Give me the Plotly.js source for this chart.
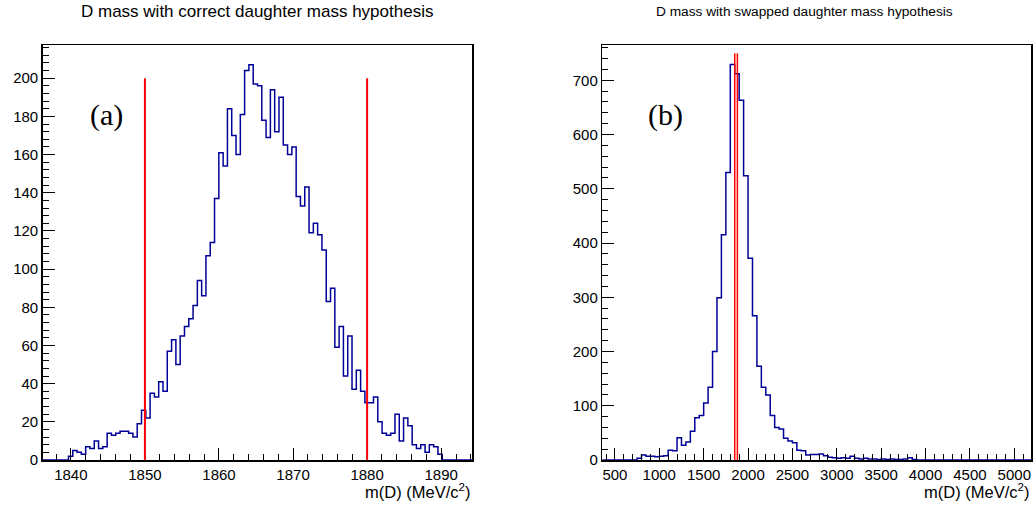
<!DOCTYPE html>
<html>
<head>
<meta charset="utf-8">
<script src="https://cdn.plot.ly/plotly-3.0.1.min.js"></script>
<style>html,body{margin:0;padding:0;background:#fff;}#chart{width:1034px;height:507px;}</style>
</head>
<body>
<div id="chart"></div>
<script>
// ---- Data ----
// (a) correct daughter mass hypothesis: 100 bins
const binStartA = 1836.2;
const binWidthA = 0.58;
const countsA = [0,0,0,0,0,0,2,5,4,3,7,6,10,6,7,14,13,14,15,15,14,12,19,26,22,35,33,41,36,57,63,50,65,70,74,81,94,86,107,114,137,161,154,184,170,160,181,204,207,197,196,178,169,194,172,190,165,160,164,138,133,143,119,124,118,110,83,90,59,70,44,65,37,47,36,30,30,33,20,14,13,14,24,10,22,18,8,6,8,4,8,7,3,0,0,0,0,0,0,0];
// (b) swapped daughter mass hypothesis: 50 MeV bins
const binStartB = 350;
const binWidthB = 50;
const countsB = [0,0,0,0,0,0,0,0,3,9,7,7,6,7,8,18,17,41,27,33,53,78,82,105,134,200,299,415,530,729,712,663,524,372,266,173,134,120,82,60,57,40,35,32,18,17,9,10,10,11,8,5,4,3,4,3,7,3,2,3,2,2,1,2,1,2,1,1,2,4,1,0,0,0,0,0,0,0,0,0,0,0,0,0,0,0,0,0,0,0,0,0,0,0,0,0,0];
const xRangeB = [358, 5188];
// Signal window cut values (MeV/c^2)
const cutValues = [1850, 1880];
const cutTopA = 200;
const cutTopB = 750;
const titleA = "D mass with correct daughter mass hypothesis";
const titleB = "D mass with swapped daughter mass hypothesis";
const xTitle = "m(D) (MeV/c<sup>2</sup>)";
const panelLabels = ["(a)", "(b)"];

function stepXY(start, width, counts){
  const x = [], y = [];
  for (let i = 0; i <= counts.length; i++){
    x.push(start + i*width);
    y.push(i < counts.length ? counts[i] : counts[counts.length-1]);
  }
  return {x, y};
}
const sA = stepXY(binStartA, binWidthA, countsA);
const sB = stepXY(binStartB, binWidthB, countsB);

const W = 1034, H = 507;
const fL = 42.7, fR = 472.3, gL = 602.3, gR = 1031, fT = 45, fB = 460;
const histColor = '#000099';
const font = 'Liberation Sans, Arial, sans-serif';

const traces = [
  {x: sA.x, y: sA.y, type: 'scatter', mode: 'lines', line: {shape: 'hv', color: histColor, width: 1.5}, xaxis: 'x', yaxis: 'y', hoverinfo: 'skip', cliponaxis: true},
  {x: sB.x, y: sB.y, type: 'scatter', mode: 'lines', line: {shape: 'hv', color: histColor, width: 1.5}, xaxis: 'x2', yaxis: 'y2', hoverinfo: 'skip', cliponaxis: true}
];

function axisBase(){
  return {
    showgrid: false, zeroline: false, showline: true, mirror: true,
    linecolor: '#000', linewidth: 1.5,
    ticks: 'inside', ticklen: 12, tickwidth: 1, tickcolor: '#000',
    tickfont: {family: font, size: 15, color: '#000'},
    tickmode: 'linear', ticklabeloverflow: 'allow'
  };
}
const yDom = [1 - fB/H, 1 - fT/H];

const layout = {
  width: W, height: H,
  margin: {l: 0, r: 0, t: 0, b: 0},
  paper_bgcolor: '#fff', plot_bgcolor: '#fff',
  showlegend: false,
  xaxis: Object.assign(axisBase(), {domain: [fL/W, fR/W], range: [binStartA, binStartA + binWidthA*countsA.length], anchor: 'y', tick0: 1840, dtick: 10,
    minor: {tick0: 1840, dtick: 2, ticks: 'inside', ticklen: 6, tickwidth: 1, tickcolor: '#000'}}),
  yaxis: Object.assign(axisBase(), {domain: yDom, range: [0, 217.4], anchor: 'x', tick0: 0, dtick: 20,
    minor: {tick0: 0, dtick: 4, ticks: 'inside', ticklen: 6, tickwidth: 1, tickcolor: '#000'}}),
  xaxis2: Object.assign(axisBase(), {domain: [gL/W, gR/W], range: xRangeB, anchor: 'y2', tick0: 500, dtick: 500,
    minor: {tick0: 500, dtick: 100, ticks: 'inside', ticklen: 6, tickwidth: 1, tickcolor: '#000'}}),
  yaxis2: Object.assign(axisBase(), {domain: yDom, range: [0, 765], anchor: 'x2', tick0: 0, dtick: 100,
    minor: {tick0: 0, dtick: 20, ticks: 'inside', ticklen: 6, tickwidth: 1, tickcolor: '#000'}}),
  shapes: [],
  annotations: [
    {text: titleA, xref: 'paper', yref: 'paper', x: 257/W, y: 1 - 11.5/H, xanchor: 'center', yanchor: 'middle', showarrow: false, font: {family: font, size: 17, color: '#000'}},
    {text: titleB, xref: 'paper', yref: 'paper', x: 804/W, y: 1 - 11.5/H, xanchor: 'center', yanchor: 'middle', showarrow: false, font: {family: font, size: 13.7, color: '#000'}},
    {text: xTitle, xref: 'paper', yref: 'paper', x: fR/W, y: 1 - 491/H, xanchor: 'right', yanchor: 'middle', showarrow: false, font: {family: font, size: 16.5, color: '#000'}},
    {text: xTitle, xref: 'paper', yref: 'paper', x: gR/W, y: 1 - 491/H, xanchor: 'right', yanchor: 'middle', showarrow: false, font: {family: font, size: 16.5, color: '#000'}},
    {text: panelLabels[0], xref: 'paper', yref: 'paper', x: 106/W, y: 1 - 115/H, xanchor: 'center', yanchor: 'middle', showarrow: false, font: {family: 'Liberation Serif, DejaVu Serif, serif', size: 30, color: '#000'}},
    {text: panelLabels[1], xref: 'paper', yref: 'paper', x: 665/W, y: 1 - 115/H, xanchor: 'center', yanchor: 'middle', showarrow: false, font: {family: 'Liberation Serif, DejaVu Serif, serif', size: 30, color: '#000'}}
  ]
};
cutValues.forEach(function(c){
  layout.shapes.push({type: 'line', xref: 'x', yref: 'y', x0: c, x1: c, y0: 0, y1: cutTopA, line: {color: '#ff0000', width: 2}});
  layout.shapes.push({type: 'line', xref: 'x2', yref: 'y2', x0: c, x1: c, y0: 0, y1: cutTopB, line: {color: '#ff0000', width: 1.5}});
});

Plotly.newPlot('chart', traces, layout, {displayModeBar: false, staticPlot: true});
</script>
</body>
</html>
